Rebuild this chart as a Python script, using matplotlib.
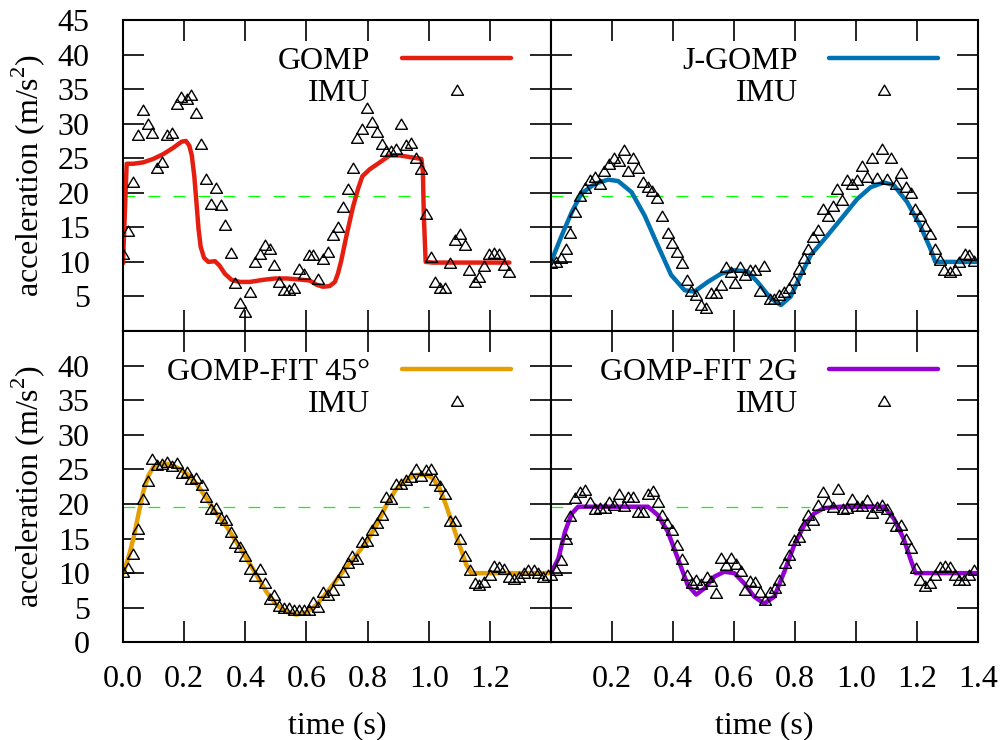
import matplotlib.pyplot as plt
from matplotlib.path import Path
import numpy as np

plt.rcParams['font.family'] = ['Liberation Serif', 'DejaVu Serif']
plt.rcParams['mathtext.fontset'] = 'custom'
plt.rcParams['mathtext.rm'] = 'Liberation Serif'
plt.rcParams['lines.scale_dashes'] = False

# ---- GOMP (top left) ----
gomp_t = [0.0, 0.012, 0.034, 0.066, 0.099, 0.132, 0.164, 0.192, 0.206, 0.217, 0.225,
          0.233, 0.241, 0.247, 0.254, 0.265, 0.279, 0.301, 0.315, 0.333, 0.355, 0.382,
          0.415, 0.458, 0.497, 0.535, 0.578, 0.611, 0.633, 0.654, 0.676, 0.693, 0.703,
          0.714, 0.731, 0.752, 0.769, 0.783, 0.807, 0.84, 0.872, 0.905, 0.948, 0.976,
          0.981, 0.984, 0.99, 1.014, 1.264]
gomp_a = [9.8, 24.2, 24.2, 24.4, 24.9, 25.6, 26.5, 27.4, 27.5, 26.8, 25.4,
          22.5, 18.2, 14.8, 12.2, 10.6, 10.0, 10.1, 9.5, 8.3, 7.4, 7.1,
          7.1, 7.4, 7.6, 7.6, 7.45, 7.3, 6.7, 6.4, 6.5, 7.1, 8.3,
          10.2, 13.8, 17.9, 20.6, 22.4, 23.4, 24.4, 25.4, 25.4, 25.1, 24.9,
          23.0, 16.7, 10.0, 9.9, 9.9]
imu1_t = [0.0, 0.017, 0.033, 0.048, 0.064, 0.081, 0.096, 0.112, 0.128, 0.143, 0.159,
          0.175, 0.19, 0.208, 0.224, 0.24, 0.256, 0.271, 0.287, 0.304, 0.32, 0.335,
          0.352, 0.367, 0.383, 0.4, 0.416, 0.431, 0.447, 0.463, 0.48, 0.495, 0.511,
          0.527, 0.543, 0.56, 0.575, 0.591, 0.607, 0.623, 0.639, 0.654, 0.671, 0.687,
          0.703, 0.719, 0.735, 0.751, 0.767, 0.783, 0.799, 0.815, 0.83, 0.846, 0.861,
          0.878, 0.894, 0.91, 0.927, 0.942, 0.957, 0.974, 0.99, 1.006, 1.022, 1.038,
          1.054, 1.069, 1.085, 1.102, 1.118, 1.133, 1.15, 1.166, 1.182, 1.198, 1.214,
          1.23, 1.245, 1.261]
imu1_a = [11.1, 14.4, 21.5, 28.4, 32.0, 29.9, 28.6, 23.6, 24.5, 28.4, 28.6,
          32.8, 33.9, 33.6, 34.2, 31.5, 27.1, 22.0, 18.4, 20.7, 18.2, 15.3,
          11.3, 6.9, 4.0, 2.8, 5.6, 10.0, 11.1, 12.4, 11.8, 9.5, 7.1,
          5.9, 5.9, 6.25, 8.9, 8.3, 11.0, 11.0, 7.5, 10.4, 11.4, 13.9,
          15.1, 17.9, 20.5, 23.6, 27.9, 29.2, 32.2, 30.3, 28.8, 27.1, 26.0,
          26.1, 26.3, 30.0, 26.9, 27.2, 25.1, 23.4, 16.9, 10.7, 7.1, 6.25,
          6.25, 9.8, 13.1, 14.1, 12.4, 8.8, 7.1, 7.8, 9.4, 11.1, 11.3,
          11.1, 9.6, 8.6]

# ---- J-GOMP (top right) ----
jgomp_t = [0.0, 0.035, 0.068, 0.1, 0.144, 0.187, 0.22, 0.264, 0.307, 0.35, 0.394,
           0.438, 0.47, 0.514, 0.558, 0.601, 0.645, 0.677, 0.721, 0.754, 0.786, 0.819,
           0.852, 0.906, 0.96, 1.004, 1.048, 1.091, 1.124, 1.167, 1.21, 1.244, 1.26,
           1.396]
jgomp_a = [10.0, 13.8, 17.2, 19.9, 21.3, 21.9, 21.7, 20.1, 16.7, 12.4, 8.1,
           5.9, 5.7, 7.1, 8.3, 8.8, 8.6, 7.1, 4.7, 3.75, 5.0, 8.1,
           11.0, 13.8, 16.7, 19.1, 20.8, 21.5, 21.1, 18.7, 15.3, 11.9, 10.0,
           10.0]
imu2_t = [0.0, 0.016, 0.032, 0.048, 0.063, 0.079, 0.095, 0.111, 0.127, 0.144, 0.16,
          0.174, 0.19, 0.206, 0.222, 0.238, 0.254, 0.27, 0.286, 0.302, 0.318, 0.332,
          0.348, 0.365, 0.382, 0.397, 0.414, 0.43, 0.445, 0.46, 0.476, 0.492, 0.509,
          0.525, 0.541, 0.558, 0.573, 0.589, 0.604, 0.62, 0.637, 0.652, 0.669, 0.685,
          0.699, 0.717, 0.732, 0.748, 0.764, 0.781, 0.797, 0.812, 0.828, 0.844, 0.86,
          0.877, 0.891, 0.907, 0.923, 0.939, 0.955, 0.971, 0.988, 1.004, 1.019, 1.036,
          1.052, 1.068, 1.084, 1.1, 1.116, 1.131, 1.148, 1.164, 1.179, 1.195, 1.211,
          1.227, 1.243, 1.259, 1.275, 1.29, 1.307, 1.323, 1.339, 1.356, 1.371, 1.387]
imu2_a = [9.8, 10.0, 10.6, 11.9, 14.2, 17.2, 19.6, 20.7, 21.8, 22.3, 21.2,
          23.2, 24.1, 25.0, 24.6, 26.25, 23.2, 25.0, 23.6, 21.5, 20.8, 20.2,
          19.2, 16.7, 14.2, 12.7, 11.5, 9.8, 7.4, 5.8, 5.2, 3.75, 3.4,
          5.5, 5.5, 6.7, 9.2, 8.6, 6.9, 9.2, 8.1, 8.8, 8.8, 5.8,
          9.4, 4.6, 4.7, 5.2, 5.7, 6.25, 7.4, 9.0, 10.6, 11.9, 13.6,
          14.6, 17.6, 16.7, 18.1, 20.6, 19.0, 21.8, 21.3, 21.8, 23.9, 22.3,
          25.0, 22.2, 26.4, 22.0, 25.0, 21.3, 22.9, 20.8, 19.9, 17.7, 16.7,
          15.2, 14.1, 11.9, 10.3, 8.8, 8.6, 8.8, 10.0, 11.1, 11.0, 10.1]

# ---- GOMP-FIT 45 deg (bottom left) ----
fit45_t = [0.0, 0.017, 0.034, 0.05, 0.066, 0.083, 0.099, 0.121, 0.143, 0.175, 0.208,
           0.241, 0.273, 0.306, 0.339, 0.371, 0.404, 0.437, 0.469, 0.502, 0.535, 0.567,
           0.6, 0.633, 0.665, 0.698, 0.731, 0.763, 0.796, 0.829, 0.861, 0.894, 0.927,
           0.959, 0.992, 1.014, 1.036, 1.057, 1.079, 1.101, 1.123, 1.139, 1.395]
fit45_a = [10.0, 12.1, 15.0, 18.4, 21.7, 24.1, 25.3, 25.8, 25.8, 25.3, 24.4,
           22.9, 20.8, 18.6, 16.7, 14.5, 12.1, 9.7, 7.3, 5.4, 4.4, 4.0,
           4.3, 5.4, 7.1, 9.0, 10.9, 12.6, 14.5, 16.9, 19.8, 22.2, 23.5,
           24.2, 24.2, 23.7, 22.2, 19.8, 16.9, 14.0, 11.2, 10.0, 10.0]
imu3_t = [0.0, 0.017, 0.033, 0.049, 0.064, 0.081, 0.096, 0.112, 0.128, 0.144, 0.159,
          0.176, 0.192, 0.208, 0.223, 0.24, 0.257, 0.271, 0.287, 0.304, 0.319, 0.336,
          0.352, 0.367, 0.382, 0.4, 0.415, 0.432, 0.448, 0.463, 0.48, 0.495, 0.511,
          0.527, 0.543, 0.56, 0.576, 0.591, 0.609, 0.623, 0.639, 0.654, 0.671, 0.687,
          0.702, 0.719, 0.735, 0.75, 0.767, 0.782, 0.798, 0.815, 0.83, 0.846, 0.861,
          0.878, 0.894, 0.909, 0.927, 0.942, 0.957, 0.974, 0.99, 1.006, 1.02, 1.037,
          1.053, 1.069, 1.086, 1.102, 1.118, 1.134, 1.15, 1.166, 1.182, 1.199, 1.214,
          1.23, 1.246, 1.262, 1.278, 1.295, 1.311, 1.326, 1.343, 1.358, 1.374, 1.39]
imu3_a = [10.1, 10.7, 12.8, 16.4, 20.7, 23.3, 26.5, 25.7, 25.8, 26.1, 25.5,
          25.9, 24.5, 24.6, 23.6, 23.7, 22.7, 21.0, 19.3, 19.4, 18.0, 17.7,
          16.0, 14.4, 13.8, 12.5, 10.6, 9.6, 10.6, 8.6, 6.3, 6.9, 5.2,
          4.9, 4.9, 4.6, 4.6, 4.7, 4.7, 5.8, 5.1, 7.3, 6.8, 7.5,
          9.0, 10.2, 11.4, 12.5, 12.1, 14.5, 14.6, 16.3, 17.3, 18.4, 21.0,
          20.7, 22.9, 22.9, 23.4, 23.9, 25.0, 24.1, 24.9, 25.0, 23.5, 22.6,
          21.4, 17.6, 17.6, 15.0, 12.5, 10.4, 8.5, 8.3, 8.75, 9.8, 11.1,
          10.9, 10.6, 9.5, 9.1, 9.5, 10.0, 10.4, 10.4, 10.0, 9.5, 9.8]

# ---- GOMP-FIT 2G (bottom right) ----
fit2g_t = [0.0, 0.024, 0.046, 0.068, 0.089, 0.15, 0.25, 0.318, 0.35, 0.383, 0.416,
           0.448, 0.476, 0.503, 0.536, 0.568, 0.601, 0.634, 0.666, 0.699, 0.732, 0.765,
           0.797, 0.83, 0.862, 0.895, 0.95, 1.05, 1.091, 1.124, 1.156, 1.178, 1.195,
           1.396]
fit2g_a = [10.0, 12.1, 16.0, 18.6, 19.6, 19.6, 19.6, 19.6, 18.4, 16.0, 12.1,
           8.3, 6.9, 7.8, 9.5, 10.2, 10.0, 8.5, 6.6, 5.6, 6.6, 10.2,
           14.0, 16.9, 18.6, 19.4, 19.6, 19.6, 19.6, 17.9, 15.0, 12.1, 10.0,
           10.0]
imu4_t = [0.0, 0.016, 0.032, 0.048, 0.063, 0.079, 0.096, 0.111, 0.127, 0.144, 0.16,
          0.176, 0.191, 0.206, 0.222, 0.238, 0.254, 0.27, 0.285, 0.301, 0.318, 0.334,
          0.351, 0.365, 0.381, 0.397, 0.414, 0.429, 0.446, 0.462, 0.477, 0.493, 0.51,
          0.525, 0.541, 0.558, 0.573, 0.589, 0.605, 0.622, 0.637, 0.653, 0.67, 0.685,
          0.701, 0.718, 0.734, 0.749, 0.766, 0.781, 0.797, 0.813, 0.829, 0.844, 0.86,
          0.876, 0.892, 0.908, 0.923, 0.94, 0.956, 0.972, 0.988, 1.004, 1.02, 1.036,
          1.052, 1.068, 1.084, 1.1, 1.116, 1.131, 1.148, 1.164, 1.179, 1.196, 1.211,
          1.227, 1.244, 1.26, 1.275, 1.291, 1.308, 1.323, 1.339, 1.355, 1.371, 1.387]
imu4_a = [9.7, 10.4, 11.9, 14.9, 18.3, 20.9, 21.7, 22.0, 20.3, 19.3, 19.4,
          19.4, 20.3, 19.8, 21.5, 19.7, 21.0, 21.0, 18.8, 18.8, 21.5, 21.8,
          20.3, 18.4, 17.3, 16.3, 14.0, 12.1, 9.7, 8.5, 9.0, 8.4, 9.4,
          8.8, 7.1, 12.2, 11.2, 12.2, 11.25, 10.3, 7.5, 8.8, 8.75, 7.3,
          6.1, 7.3, 7.8, 9.0, 11.4, 12.6, 14.8, 15.2, 16.9, 18.4, 17.7,
          19.9, 21.7, 20.3, 19.6, 22.1, 19.2, 19.4, 20.7, 19.7, 19.7, 20.5,
          18.75, 19.6, 19.9, 19.2, 18.0, 16.8, 16.9, 15.0, 13.6, 10.8, 9.0,
          8.1, 8.5, 9.7, 10.9, 11.1, 10.9, 9.7, 9.0, 9.0, 9.8, 10.5]

# 2 g reference line and where it stops in each panel
G2 = 19.6
g_end = [1.0, 1.0, 1.0, 0.85]

labels = ['GOMP', 'J-GOMP', 'GOMP-FIT 45°', 'GOMP-FIT 2G']
colors = ['#e51e10', '#0072b2', '#e69f00', '#9400d3']

xticks = [0.0, 0.2, 0.4, 0.6, 0.8, 1.0, 1.2, 1.4]
yticks = [0, 5, 10, 15, 20, 25, 30, 35, 40, 45]

# open triangle (closed path), a bit flatter than the default '^'
TRI = Path([(-1, -0.8), (1, -0.8), (0, 0.9), (-1, -0.8)], closed=True)
FS = 23


def draw_panel(ax, ct, ca, color, label, it, ia, gend):
    ax.plot([0, gend], [G2, G2], color='#00ff00', lw=0.9, dashes=(8.5, 9.5), zorder=1)
    ax.plot(ct, ca, color=color, lw=3.2, solid_capstyle='round', label=label, zorder=2)
    ax.plot(it, ia, linestyle='none', marker=TRI, ms=8.6, mfc='none', mec='black',
            mew=1.0, label='IMU', zorder=3)
    ax.set_xlim(0, 1.4)
    ax.set_ylim(0, 45)
    ax.set_xticks(xticks)
    ax.set_yticks(yticks)
    ax.tick_params(direction='in', length=15, width=1.2, top=True, right=True,
                   labelsize=FS)
    ax.tick_params(axis='x', pad=16)
    ax.tick_params(axis='y', pad=24)
    for sp in ax.spines.values():
        sp.set_linewidth(1.5)
    ax.legend(loc='upper right', bbox_to_anchor=(0.9065, 0.915), markerfirst=False,
              frameon=False, fontsize=FS, handlelength=3.4, handletextpad=1.0,
              labelspacing=0.1, borderpad=0, borderaxespad=0, numpoints=1)


fig = plt.figure(figsize=(10.01, 7.40), dpi=100)
W, H = 1001.0, 740.0
pos = [(123, 20, 551, 331), (551, 20, 978, 331),
       (123, 331, 551, 642.3), (551, 331, 978, 642.3)]
axes = []
for x0, y0, x1, y1 in pos:
    axes.append(fig.add_axes([x0 / W, 1 - y1 / H, (x1 - x0) / W, (y1 - y0) / H]))

series = [(gomp_t, gomp_a, imu1_t, imu1_a), (jgomp_t, jgomp_a, imu2_t, imu2_a),
          (fit45_t, fit45_a, imu3_t, imu3_a), (fit2g_t, fit2g_a, imu4_t, imu4_a)]
for i, ax in enumerate(axes):
    ct, ca, it, ia = series[i]
    draw_panel(ax, ct, ca, colors[i], labels[i], it, ia, g_end[i])

ytxt = [str(v) for v in yticks]
xtxt = ['%.1f' % v for v in xticks]
# top row: no x labels, right column: no y labels
axes[0].set_xticklabels([])
axes[1].set_xticklabels([])
axes[1].set_yticklabels([])
axes[3].set_yticklabels([])
axes[0].set_yticklabels([''] + ytxt[1:])
axes[2].set_yticklabels(ytxt[:-1] + [''])
axes[2].set_xticklabels(xtxt[:-1] + [''])
axes[3].set_xticklabels([''] + xtxt[1:])

for yc in [175.5, 486.5]:
    fig.text(38.5 / W, 1 - yc / H, r'acceleration (m/s$^{2}$)', rotation=90,
             rotation_mode='anchor', ha='center', va='baseline', fontsize=FS)
for xc in [337, 764.5]:
    fig.text(xc / W, 1 - 733 / H, 'time (s)', ha='center', va='baseline', fontsize=FS)

fig.savefig('out.png', dpi=100)
